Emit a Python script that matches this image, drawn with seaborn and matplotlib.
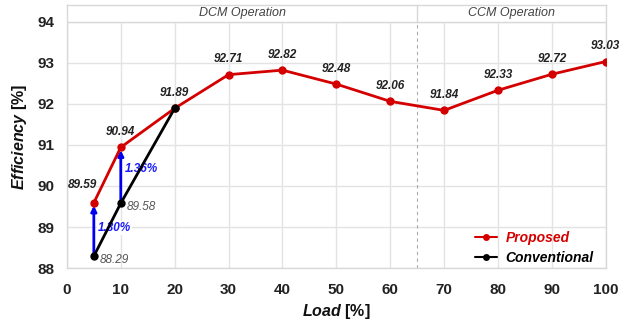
import matplotlib
matplotlib.use("Agg")
import matplotlib.pyplot as plt
import seaborn as sns
import pandas as pd

load_prop = [5, 10, 20, 30, 40, 50, 60, 70, 80, 90, 100]
eff_prop = [89.59, 90.94, 91.89, 92.71, 92.82, 92.48, 92.06, 91.84, 92.33, 92.72, 93.03]
load_conv = [5, 10, 20]
eff_conv = [88.29, 89.58, 91.89]
x_ticks = [0, 10, 20, 30, 40, 50, 60, 70, 80, 90, 100]
y_ticks = [88, 89, 90, 91, 92, 93, 94]
gain_labels = ["1.30%", "1.36%"]

sns.set_theme(style="whitegrid")
plt.rcParams['font.family'] = ['Liberation Sans', 'DejaVu Sans']
plt.rcParams['mathtext.fontset'] = 'custom'
plt.rcParams['mathtext.bf'] = 'Liberation Sans:italic:bold'
plt.rcParams['mathtext.rm'] = 'Liberation Sans:bold'

df = pd.concat([
    pd.DataFrame({"Load": load_prop, "Eff": eff_prop, "Series": "Proposed"}),
    pd.DataFrame({"Load": load_conv, "Eff": eff_conv, "Series": "Conventional"}),
])

fig = plt.figure(figsize=(6.31, 3.23), dpi=100)
ax = fig.add_axes([0.106, 0.170, 0.854, 0.815])

palette = {"Proposed": "#d40000", "Conventional": "#000000"}
sns.lineplot(data=df, x="Load", y="Eff", hue="Series", hue_order=["Proposed", "Conventional"],
             palette=palette, marker="o", markersize=6, markeredgewidth=0, linewidth=2,
             ax=ax, zorder=4, sort=False)

ylo, yhi = 88, 94.41
ax.set_xlim(0, 100)
ax.set_ylim(ylo, yhi)
ax.set_xticks(x_ticks)
ax.set_yticks(y_ticks)
ax.tick_params(axis='x', labelsize=11, pad=11, length=0)
ax.tick_params(axis='y', labelsize=11, pad=9, length=0)
for lbl in ax.get_xticklabels() + ax.get_yticklabels():
    lbl.set_fontweight("bold")
    lbl.set_color("#222222")
ax.grid(True, color="#e3e3e3", linewidth=1)
ax.set_axisbelow(True)
for s in ax.spines.values():
    s.set_color("#d8d8d8")
    s.set_linewidth(1)

# header band
ax.axhspan(94, yhi, color="white", zorder=1)
ax.axhline(94, color="#d8d8d8", linewidth=1, zorder=2)
ax.plot([65, 65], [94, yhi], color="#d8d8d8", linewidth=1, zorder=2)
ax.plot([65, 65], [ylo, 94], color="#aaaaaa", linewidth=0.8, linestyle=(0, (3, 3)), zorder=2)
ax.text(32.5, (94 + yhi) / 2, "DCM Operation", ha="center", va="center", fontsize=9,
        style="italic", color="#444444", zorder=3)
ax.text(82.5, (94 + yhi) / 2, "CCM Operation", ha="center", va="center", fontsize=9,
        style="italic", color="#444444", zorder=3)

ax.set_xlabel("$\\bf{Load}$ [%]", fontsize=11.5, fontweight="bold", labelpad=3, color="#111111")
ax.set_ylabel("$\\bf{Efficiency}$ [%]", fontsize=11.5, fontweight="bold", labelpad=6, color="#111111")

# value labels
for x, y in zip(load_prop, eff_prop):
    off = (-8.5, 13) if x == 5 else (0, 11)
    ax.annotate(f"{y:.2f}", (x, y), xytext=off, textcoords="offset points",
                ha="center", va="center", fontsize=8.5, style="italic", fontweight="bold", color="#222222")
for x, y in zip(load_conv[:2], eff_conv[:2]):
    ax.annotate(f"{y:.2f}", (x, y), xytext=(4, -3), textcoords="offset points",
                ha="left", va="center", fontsize=8.5, style="italic", color="#555555")

# gain arrows
for i in range(2):
    x = load_prop[i]
    ax.annotate("", xy=(x, eff_prop[i]), xytext=(x, eff_conv[i]),
                arrowprops=dict(arrowstyle="-|>", color="#0000ee", lw=2, mutation_scale=8,
                                shrinkA=0, shrinkB=2), zorder=3)
ax.text(5.8, 88.98, gain_labels[0], color="#1a1aff", fontsize=8.5, style="italic",
        fontweight="bold", ha="left", va="center",
        bbox=dict(facecolor="white", edgecolor="none", pad=0.5), zorder=3)
ax.text(10.8, 90.42, gain_labels[1], color="#1a1aff", fontsize=8.5, style="italic",
        fontweight="bold", ha="left", va="center",
        bbox=dict(facecolor="white", edgecolor="none", pad=0.5), zorder=3)

leg = ax.legend(loc="lower right", bbox_to_anchor=(0.978, 0.012), frameon=False,
                fontsize=10, handlelength=1.6, borderaxespad=0, borderpad=0,
                labelspacing=0.45, handletextpad=0.6)
for t, c in zip(leg.get_texts(), ["#d40000", "#000000"]):
    t.set_color(c)
    t.set_fontstyle("italic")
    t.set_fontweight("bold")
for h in leg.get_lines():
    h.set_markersize(5)
    h.set_linewidth(1.5)

fig.savefig("out.png", dpi=100)
